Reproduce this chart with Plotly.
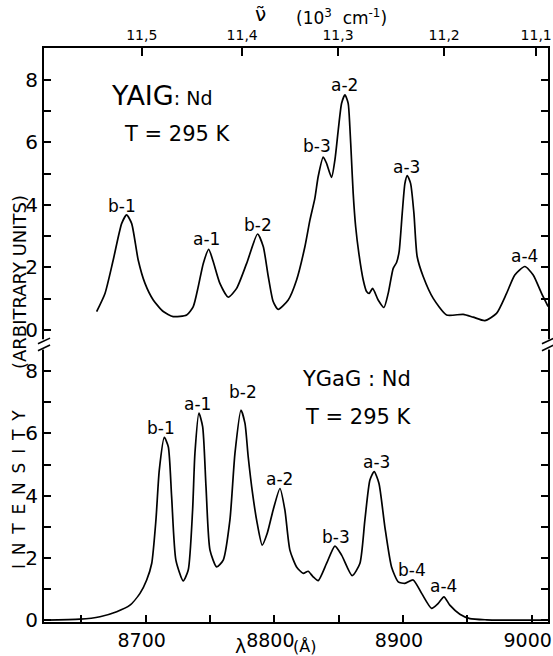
import plotly.graph_objects as go

# ---------------- data ----------------
# Top panel: YAIG:Nd, T = 295 K
yaig_lam = [8661.9, 8668.4, 8674.8, 8681.4, 8685.2, 8689.1, 8694.2, 8699.5, 8705.9, 8713.7,
            8721.4, 8731.9, 8737.0, 8740.9, 8744.8, 8749.0, 8752.5, 8757.7, 8764.2, 8770.7,
            8778.5, 8787.0, 8791.4, 8795.3, 8799.1, 8803.0, 8810.8, 8817.3, 8823.8, 8827.7,
            8831.5, 8834.1, 8838.0, 8840.6, 8844.5, 8847.1, 8849.7, 8852.3, 8854.9, 8857.4,
            8858.7, 8860.0, 8861.3, 8863.2, 8865.7, 8869.1, 8871.7, 8873.7, 8876.4, 8880.7,
            8885.2, 8888.5, 8892.4, 8895.0, 8897.0, 8899.4, 8901.5, 8903.3, 8905.9, 8908.5,
            8911.0, 8915.7, 8923.5, 8933.9, 8946.8, 8954.5, 8963.6, 8972.7, 8980.5, 8986.9,
            8994.7, 9001.2, 9007.7, 9012.8]
yaig_int = [0.59, 1.17, 2.24, 3.41, 3.68, 3.41, 2.24, 1.49, 0.96, 0.59,
            0.43, 0.48, 0.75, 1.39, 2.13, 2.58, 2.19, 1.49, 1.05, 1.33,
            2.13, 3.07, 2.67, 1.71, 0.91, 0.66, 0.96, 1.60, 2.67, 3.52,
            4.21, 4.91, 5.53, 5.33, 4.88, 5.44, 6.40, 7.25, 7.52, 7.25,
            6.50, 5.44, 4.37, 3.31, 2.45, 1.60, 1.23, 1.17, 1.33, 0.96,
            0.72, 1.17, 1.97, 2.16, 2.51, 3.73, 4.69, 4.94, 4.69, 3.73,
            2.35, 1.71, 1.01, 0.48, 0.50, 0.41, 0.30, 0.53, 1.17, 1.76,
            2.03, 1.76, 1.17, 0.75]

# Bottom panel: YGaG:Nd, T = 295 K
ygag_lam = [8622.0, 8649.0, 8664.5, 8677.5, 8687.8, 8695.6, 8700.8, 8704.7, 8708.0, 8710.6,
            8714.5, 8717.6, 8720.2, 8723.5, 8729.2, 8733.1, 8736.5, 8738.3, 8741.4, 8744.3,
            8746.9, 8750.0, 8755.2, 8760.3, 8765.5, 8769.4, 8774.1, 8777.2, 8779.7, 8783.1,
            8786.7, 8790.6, 8794.5, 8799.1, 8804.4, 8808.2, 8812.1, 8817.3, 8822.5, 8826.3,
            8830.0, 8834.1, 8840.6, 8847.1, 8852.3, 8860.5, 8866.5, 8870.4, 8874.3, 8877.6,
            8881.3, 8885.9, 8891.1, 8896.3, 8901.5, 8907.9, 8914.5, 8922.2, 8927.4, 8931.8,
            8936.4, 8944.2, 8952.0, 8965.0, 8975.3, 9013.0]
ygag_int = [0.00, 0.03, 0.11, 0.27, 0.48, 0.86, 1.29, 1.82, 3.22, 4.82,
            5.87, 5.57, 3.96, 1.93, 1.26, 1.61, 3.54, 5.36, 6.65, 6.22,
            4.29, 2.25, 1.71, 1.93, 3.22, 5.36, 6.75, 6.32, 5.25, 4.07,
            3.11, 2.41, 2.79, 3.54, 4.23, 3.54, 2.25, 1.71, 1.50, 1.57,
            1.40, 1.27, 1.82, 2.38, 2.09, 1.43, 1.82, 3.22, 4.50, 4.77,
            4.40, 3.00, 1.71, 1.23, 1.18, 1.29, 0.86, 0.38, 0.54, 0.75,
            0.48, 0.19, 0.05, 0.01, 0.00, 0.00]

# Peak labels
top_labels = ["b-1", "a-1", "b-2", "b-3", "a-2", "a-3", "a-4"]
top_label_lam = [8682.0, 8746.9, 8787.0, 8833.5, 8854.9, 8903.0, 8994.7]
top_label_val = [3.97, 2.90, 3.36, 5.87, 7.84, 5.20, 2.37]

bot_labels = ["b-1", "a-1", "b-2", "a-2", "b-3", "a-3", "b-4", "a-4"]
bot_label_lam = [8711.7, 8740.2, 8775.8, 8804.4, 8848.1, 8879.5, 8907.2, 8931.8]
bot_label_val = [6.16, 6.95, 7.34, 4.52, 2.68, 5.09, 1.61, 1.09]

# Axes ticks
lam_ticks = [8650, 8700, 8750, 8800, 8850, 8900, 8950, 9000]
lam_ticktext = ["", "8700", "", "8800", "", "8900", "", "9000"]
nu_ticktext = ["11,5", "11,4", "11,3", "11,2", "11,1"]
nu_tick_lam = [8697.0, 8775.0, 8849.5, 8932.0, 9003.5]   # positions
y_ticks = [0, 1, 2, 3, 4, 5, 6, 7, 8]
y_ticktext = ["0", "", "2", "", "4", "", "6", "", "8"]

# ---------------- figure ----------------
FONT = "DejaVu Sans"
fig = go.Figure()
line_style = dict(color="black", width=1.7, shape="spline", smoothing=0.6)
fig.add_trace(go.Scatter(x=ygag_lam, y=ygag_int, mode="lines", line=line_style,
                         xaxis="x", yaxis="y", showlegend=False, hoverinfo="skip"))
fig.add_trace(go.Scatter(x=yaig_lam, y=yaig_int, mode="lines", line=line_style,
                         xaxis="x2", yaxis="y2", showlegend=False, hoverinfo="skip"))

split = 0.4826
xr = [8621, 9012.7]
common_axis = dict(showline=True, linecolor="black", linewidth=2, ticks="inside",
                   tickcolor="black", tickwidth=1.5, showgrid=False, zeroline=False,
                   automargin=False, ticklabeloverflow="allow")

fig.update_layout(
    width=553, height=656,
    margin=dict(l=44, r=5, t=48, b=34),
    paper_bgcolor="white", plot_bgcolor="white",
    font=dict(family=FONT, color="black"),
    xaxis=dict(domain=[0, 1], anchor="y", range=xr, tickvals=lam_ticks, ticktext=lam_ticktext,
               ticklen=7, ticklabelshift=-4,
               tickfont=dict(size=19, family=FONT, color="black"), **common_axis),
    xaxis2=dict(domain=[0, 1], anchor="y2", side="top", matches="x", range=xr,
                tickvals=nu_tick_lam, ticktext=nu_ticktext, ticklen=8,
                tickfont=dict(size=14, family=FONT, color="black"), **common_axis),
    yaxis=dict(domain=[0, split], anchor="x", range=[-0.06, 8.84], tickvals=y_ticks,
               ticktext=y_ticktext, ticklen=7, mirror="ticks",
               tickfont=dict(size=20, family=FONT, color="black"), **common_axis),
    yaxis2=dict(domain=[split, 1], anchor="x2", range=[-0.48, 9.02], tickvals=y_ticks,
                ticktext=y_ticktext, ticklen=7, mirror="ticks",
                tickfont=dict(size=20, family=FONT, color="black"), **common_axis),
)

ann = []
for t, xv, yv in zip(top_labels, top_label_lam, top_label_val):
    ann.append(dict(x=xv, y=yv, xref="x2", yref="y2", text=t, showarrow=False,
                    xanchor="center", yanchor="middle",
                    font=dict(size=17, family=FONT, color="black")))
for t, xv, yv in zip(bot_labels, bot_label_lam, bot_label_val):
    ann.append(dict(x=xv, y=yv, xref="x", yref="y", text=t, showarrow=False,
                    xanchor="center", yanchor="middle",
                    font=dict(size=17, family=FONT, color="black")))

# Sample names / temperatures
ann += [
    dict(x=8671.5, y=7.49, xref="x2", yref="y2", xanchor="left", yanchor="middle",
         text="YAIG<span style='font-size:19px'>: Nd</span>", showarrow=False,
         font=dict(size=27, family=FONT, color="black")),
    dict(x=8681.4, y=6.27, xref="x2", yref="y2", xanchor="left", yanchor="middle",
         text="T = 295 K", showarrow=False, font=dict(size=21, family=FONT, color="black")),
    dict(x=8819.9, y=7.75, xref="x", yref="y", xanchor="left", yanchor="middle",
         text="YGaG : Nd", showarrow=False, font=dict(size=21, family=FONT, color="black")),
    dict(x=8822.2, y=6.53, xref="x", yref="y", xanchor="left", yanchor="middle",
         text="T = 295 K", showarrow=False, font=dict(size=21, family=FONT, color="black")),
]


def px_x(p):
    return (p - 44) / 504


def px_y(p):
    return (622 - p) / 574


# Axis titles
ann += [
    dict(x=px_x(260), y=px_y(14), xref="paper", yref="paper", xanchor="center", yanchor="middle",
         text="\u03bd\u0303", showarrow=False, font=dict(size=20, family=FONT, color="black")),
    dict(x=px_x(341), y=px_y(17), xref="paper", yref="paper", xanchor="center", yanchor="middle",
         text="(10<sup>3</sup>  cm<sup>-1</sup>)", showarrow=False,
         font=dict(size=17, family=FONT, color="black")),
    dict(x=px_x(240), y=px_y(646), xref="paper", yref="paper", xanchor="center", yanchor="middle",
         text="\u03bb", showarrow=False, font=dict(size=19, family=FONT, color="black")),
    dict(x=px_x(304), y=px_y(646), xref="paper", yref="paper", xanchor="center", yanchor="middle",
         text="(\u00c5)", showarrow=False, font=dict(size=16, family=FONT, color="black")),
    dict(x=px_x(19), y=px_y(282), xref="paper", yref="paper", xanchor="center", yanchor="middle",
         text="(ARBITRARY UNITS)", textangle=-90, showarrow=False,
         font=dict(size=18, family=FONT, color="black")),
    dict(x=px_x(19), y=px_y(490), xref="paper", yref="paper", xanchor="center", yanchor="middle",
         text="\u2009".join("INTENSITY").replace("\u2009", " \u2009"), textangle=-90,
         showarrow=False, font=dict(size=17, family=FONT, color="black")),
]
fig.update_layout(annotations=ann)

# Axis break marks on left and right frame lines
shapes = []
for xp in (0.0, 1.0):
    shapes.append(dict(type="rect", xref="paper", yref="paper", x0=xp - 0.012, x1=xp + 0.012,
                       y0=split - 0.008, y1=split + 0.010, fillcolor="white",
                       line=dict(width=0)))
    shapes.append(dict(type="line", xref="paper", yref="paper", x0=xp - 0.012, x1=xp + 0.012,
                       y0=split - 0.010, y1=split + 0.000, line=dict(color="black", width=1.6)))
    shapes.append(dict(type="line", xref="paper", yref="paper", x0=xp - 0.012, x1=xp + 0.012,
                       y0=split + 0.002, y1=split + 0.012, line=dict(color="black", width=1.6)))
fig.update_layout(shapes=shapes)

fig.write_html("out.html", config={"displayModeBar": False},
               post_script="document.body.style.margin='0px';")
